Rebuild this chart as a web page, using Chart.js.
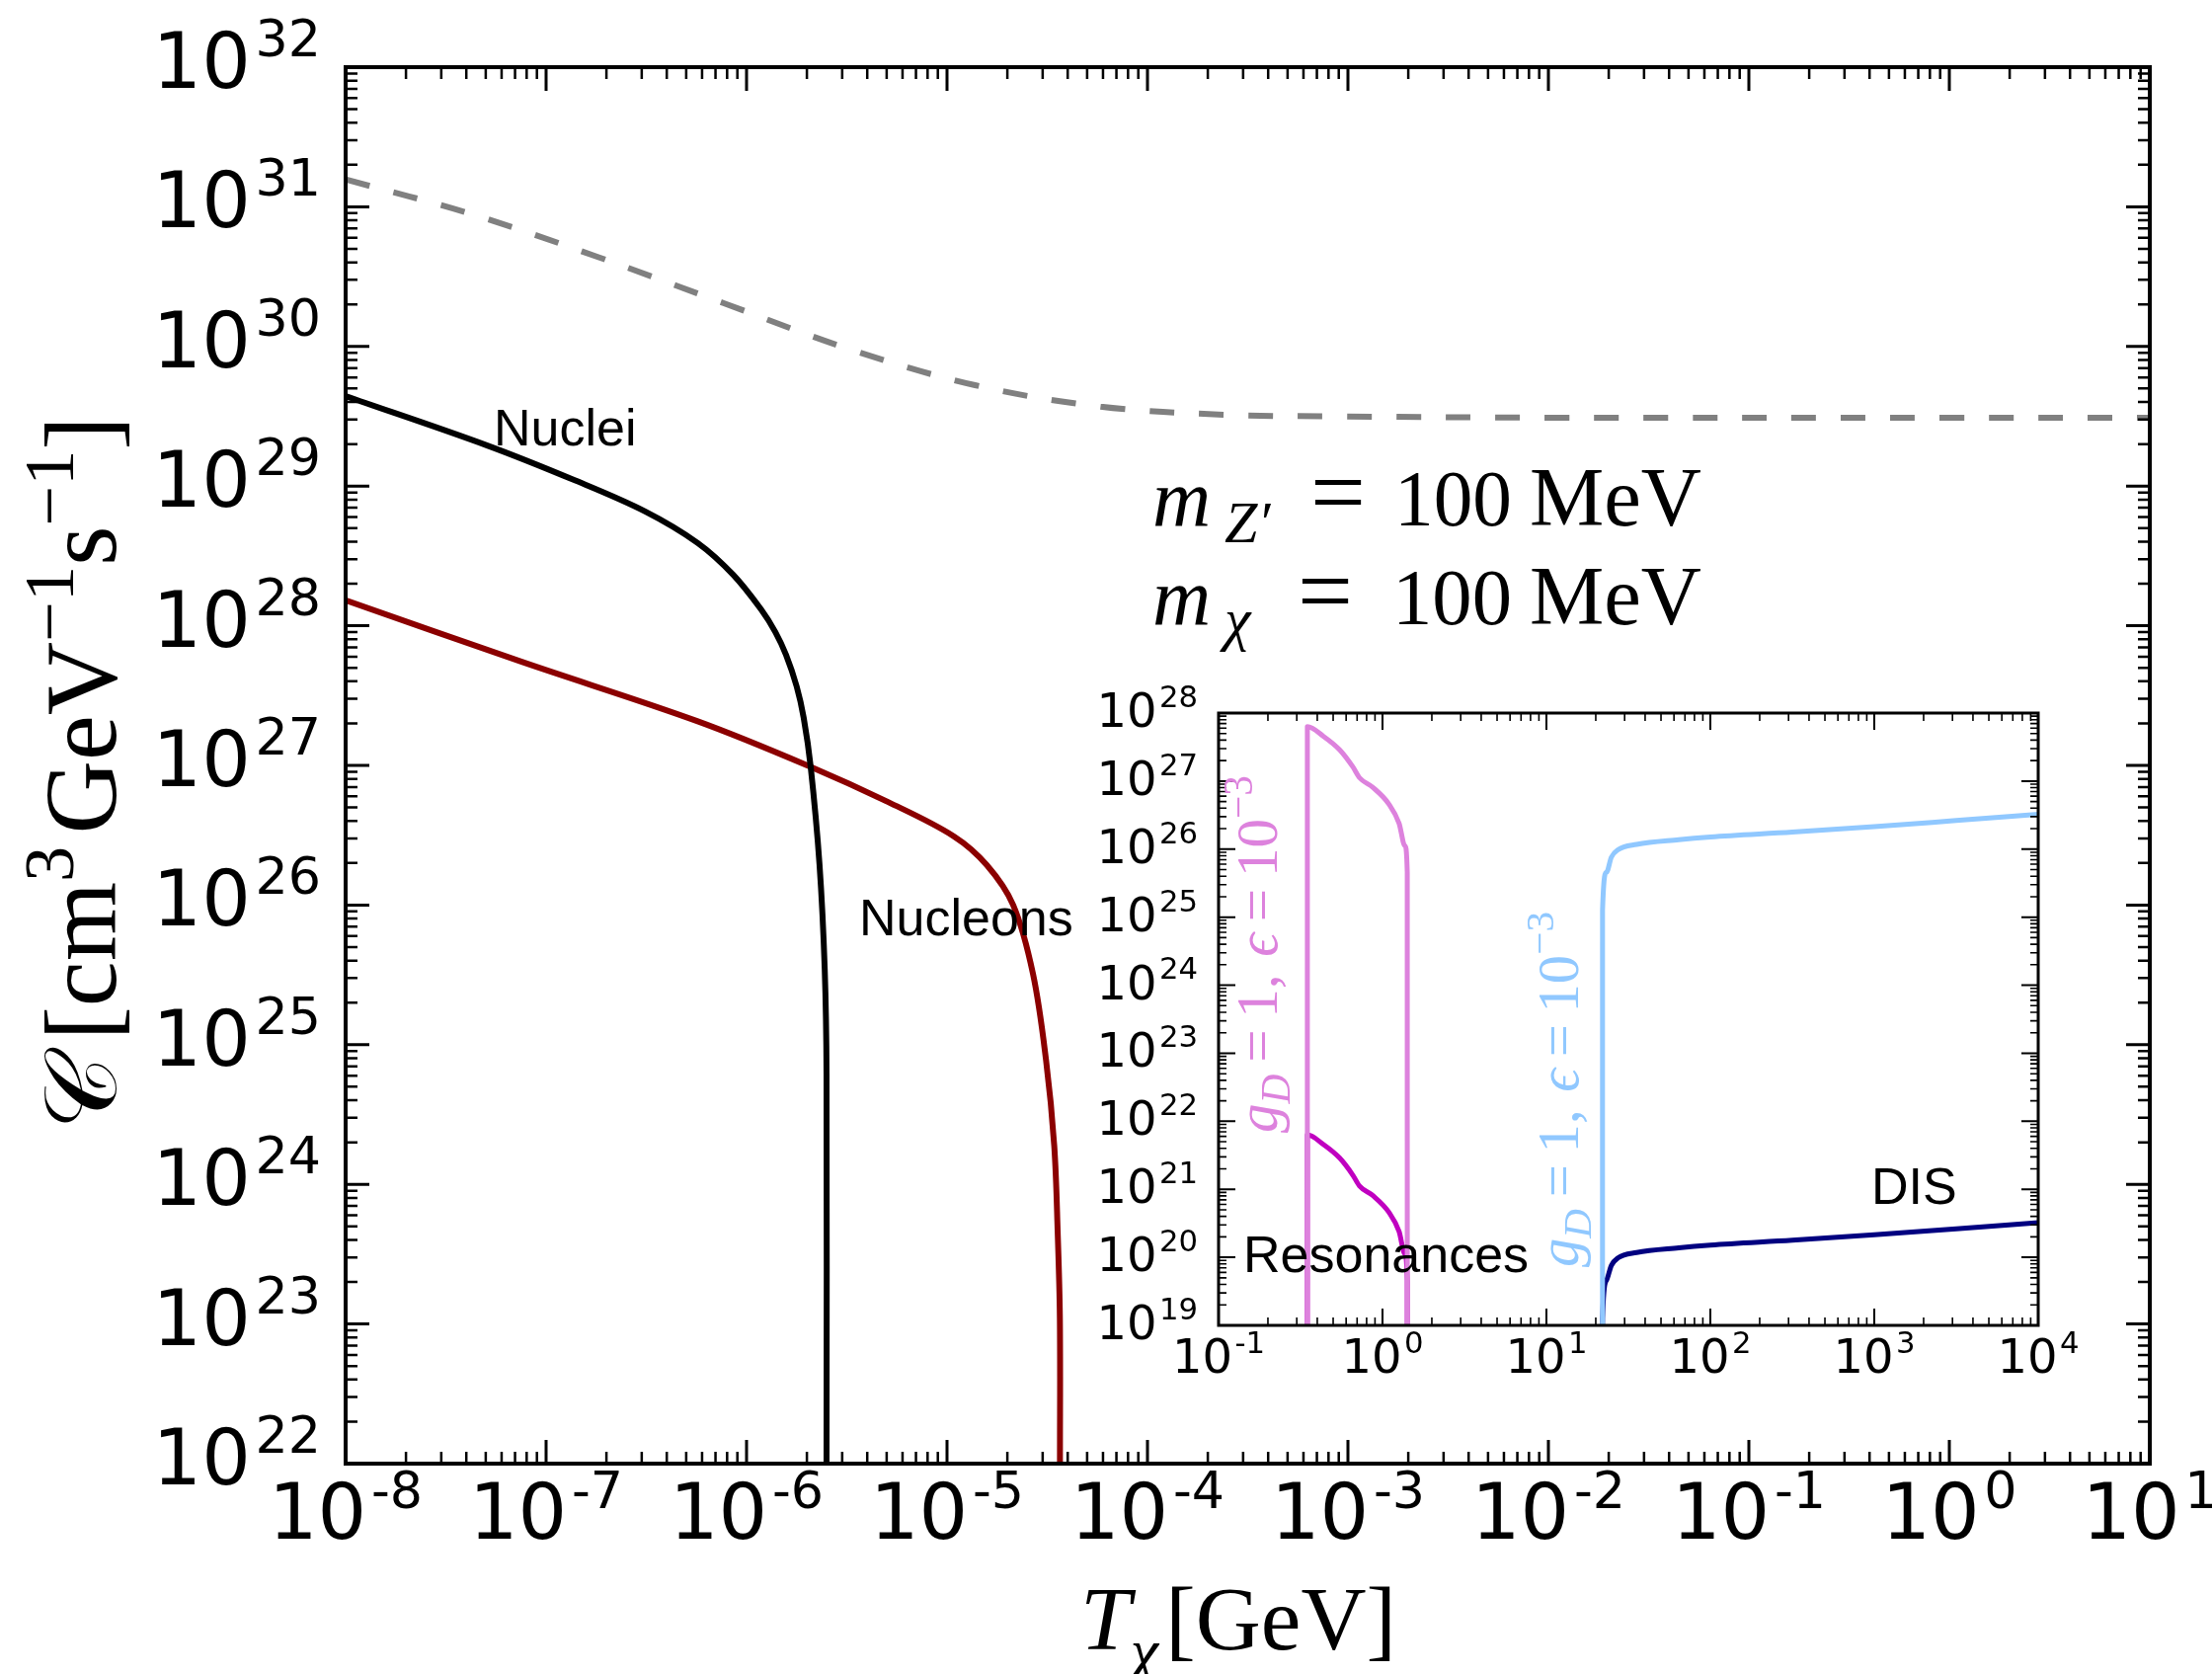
<!DOCTYPE html>
<html><head><meta charset="utf-8">
<script src="https://cdn.jsdelivr.net/npm/chart.js@4.4.1/dist/chart.umd.min.js"></script>
<style>
html,body{margin:0;padding:0;background:#fff;}
#wrap{position:relative;width:2240px;height:1695px;overflow:hidden;background:#fff;}
canvas{position:absolute;left:0;top:0;}
</style></head><body>
<div id="wrap"><canvas id="main" width="2240" height="1695"></canvas><canvas id="inset" width="2240" height="1695"></canvas></div>
<script>
// ---------------- DATA ----------------
// Main panel: T_chi [GeV] and C [cm^3 GeV^-1 s^-1]
const fluxT   = [1e-8, 4.25e-8, 1.80e-7, 7.64e-7, 3.24e-6, 1.38e-5, 5.83e-5, 2.48e-4, 8.34e-4, 1e-2, 1, 10];
const fluxC   = [1.57e31, 8.87e30, 4.39e30, 2.05e30, 9.59e29, 5.28e29, 3.71e29, 3.24e29, 3.16e29, 3.09e29, 3.09e29, 3.09e29];
const nucleiT = [1e-8, 5.05e-8, 1.39e-7, 3.12e-7, 5.71e-7, 8.57e-7, 1.186e-6, 1.393e-6, 1.574e-6, 1.778e-6, 1.928e-6, 2.089e-6, 2.312e-6, 2.455e-6, 2.506e-6, 2.506e-6];
const nucleiC = [4.41e29, 1.96e29, 1.10e29, 6.58e28, 3.91e28, 2.32e28, 1.30e28, 9.0e27, 6.18e27, 3.68e27, 2.19e27, 9.77e26, 1.95e26, 3.45e25, 6.12e24, 1e22];
const nucleonsT = [1e-8, 7.57e-8, 5.71e-7, 2.089e-6, 5.09e-6, 1.084e-5, 1.581e-5, 2.138e-5, 2.685e-5, 3.119e-5, 3.428e-5, 3.565e-5, 3.656e-5, 3.660e-5];
const nucleonsC = [1.52e28, 5.51e27, 2.07e27, 9.77e26, 5.46e26, 3.10e26, 1.93e26, 1.00e26, 3.21e25, 7.76e24, 1.88e24, 4.56e23, 1.10e23, 1e22];
// Inset: resonances and DIS
const resT     = [0.348, 0.3481, 0.4355, 0.548, 0.659, 0.724, 0.871, 1.096, 1.262, 1.371, 1.416, 1.4161];
const resHighC = [1e19, 6.31e27, 4.57e27, 2.88e27, 1.62e27, 1.12e27, 8.13e26, 4.57e26, 2.40e26, 1.12e26, 4.57e25, 1e19];
const resLowC  = [1e19, 6.31e21, 4.57e21, 2.88e21, 1.62e21, 1.12e21, 8.13e20, 4.57e20, 2.40e20, 1.12e20, 4.57e19, 1e19];
const disT     = [21.98, 21.99, 23.23, 24.89, 27.29, 35.48, 64.12, 100, 316.2, 1000, 3162, 10000];
const disHighC = [1e19, 1.26e25, 4.57e25, 7.59e25, 9.77e25, 1.175e26, 1.38e26, 1.51e26, 1.78e26, 2.14e26, 2.63e26, 3.24e26];
const disLowC  = [1e19, 1.26e19, 4.57e19, 7.59e19, 9.77e19, 1.175e20, 1.38e20, 1.51e20, 1.78e20, 2.14e20, 2.63e20, 3.24e20];
// Tick labels (exponents of 10)
const mainXExps  = ['-8','-7','-6','-5','-4','-3','-2','-1','0','1'];
const mainYExps  = ['22','23','24','25','26','27','28','29','30','31','32'];
const insetXExps = ['-1','0','1','2','3','4'];
const insetYExps = ['19','20','21','22','23','24','25','26','27','28'];
// -----------------------------------------------------------------

const zip = (xs, ys) => xs.map((x, i) => ({x: x, y: ys[i]}));
const F_SANS  = '"DejaVu Sans", sans-serif';
const F_TXT   = '"Liberation Sans", Arial, sans-serif';
const F_SERIF = '"Liberation Serif", "DejaVu Serif", serif';

function fontOf(r, size){ return (r.i ? 'italic ' : '') + ((r.s || 1) * size) + 'px ' + (r.f || F_SERIF); }
function runsWidth(ctx, runs, size){
  let w = 0;
  for (const r of runs){ ctx.font = fontOf(r, size); w += ctx.measureText(r.t).width + (r.gap || 0) * size; }
  return w;
}
function drawRuns(ctx, runs, x, y, size, opt){
  opt = opt || {};
  if (opt.fit) size = size * opt.fit / runsWidth(ctx, runs, size);
  const total = runsWidth(ctx, runs, size);
  ctx.save(); ctx.translate(x, y); if (opt.rot) ctx.rotate(opt.rot);
  let cx = opt.align === 'center' ? -total / 2 : opt.align === 'right' ? -total : 0;
  ctx.fillStyle = opt.color || '#000'; ctx.textBaseline = 'alphabetic'; ctx.textAlign = 'left';
  for (const r of runs){
    ctx.font = fontOf(r, size);
    ctx.fillText(r.t, cx, (r.dy || 0) * size);
    cx += ctx.measureText(r.t).width + (r.gap || 0) * size;
  }
  ctx.restore();
}
function drawLogTicks(ctx, chart, o){
  const a = chart.chartArea, xs = chart.scales.x, ys = chart.scales.y;
  ctx.save(); ctx.strokeStyle = '#000';
  const eachVal = (sc, fn) => {
    const lo = Math.floor(Math.log10(sc.min)), hi = Math.ceil(Math.log10(sc.max));
    for (let e = lo; e <= hi; e++) for (let m = 1; m <= 9; m++){
      const v = m * Math.pow(10, e);
      if (v < sc.min * 0.999999 || v > sc.max * 1.000001) continue;
      fn(sc.getPixelForValue(v), m === 1);
    }
  };
  eachVal(xs, (p, major) => {
    const L = major ? o.major : o.minor; ctx.lineWidth = major ? o.wMajor : o.wMinor;
    ctx.beginPath(); ctx.moveTo(p, a.bottom); ctx.lineTo(p, a.bottom - L);
    ctx.moveTo(p, a.top); ctx.lineTo(p, a.top + L); ctx.stroke();
  });
  eachVal(ys, (p, major) => {
    const L = major ? o.major : o.minor; ctx.lineWidth = major ? o.wMajor : o.wMinor;
    ctx.beginPath(); ctx.moveTo(a.left, p); ctx.lineTo(a.left + L, p);
    ctx.moveTo(a.right, p); ctx.lineTo(a.right - L, p); ctx.stroke();
  });
  ctx.lineWidth = o.frame; ctx.strokeRect(a.left, a.top, a.right - a.left, a.bottom - a.top);
  ctx.restore();
}

const lineDs = (label, xs, ys, color, width, dash, mono) => ({
  label: label, data: zip(xs, ys), borderColor: color, backgroundColor: color,
  borderWidth: width, borderDash: dash || [], pointRadius: 0, fill: false,
  cubicInterpolationMode: mono ? 'monotone' : 'default', tension: mono ? 0 : 0.35,
  borderJoinStyle: 'round'
});

const mainPlugin = {
  id: 'mainDecor',
  beforeDraw(chart){ const c = chart.ctx; c.save(); c.fillStyle = '#fff'; c.fillRect(0, 0, chart.width, chart.height); c.restore(); },
  afterDraw(chart){
    const ctx = chart.ctx, xs = chart.scales.x, ys = chart.scales.y, a = chart.chartArea;
    drawLogTicks(ctx, chart, {major: 24, minor: 12, wMajor: 3, wMinor: 2.5, frame: 4});
    const base = 78;
    mainXExps.forEach(e => {
      const p = xs.getPixelForValue(Math.pow(10, Number(e)));
      drawRuns(ctx, [{t:'10', f:F_SANS, gap:0.06}, {t:e, f:F_SANS, s:0.67, dy:-0.40}], p, a.bottom + 76, base, {align:'center'});
    });
    mainYExps.forEach(e => {
      const p = ys.getPixelForValue(Math.pow(10, Number(e)));
      drawRuns(ctx, [{t:'10', f:F_SANS, gap:0.06}, {t:e, f:F_SANS, s:0.67, dy:-0.41}], a.left - 25, p + 21, base, {align:'right'});
    });
    // axis titles
    drawRuns(ctx, [{t:'T', i:true}, {t:'χ', i:true, s:0.7, dy:0.25, gap:0.08}, {t:'[GeV]'}], 1094, 1670, 90, {fit: 320});
    drawRuns(ctx, [{t:'𝒞', f:'"DejaVu Serif", "DejaVu Sans", "Noto Sans", serif', gap:0.15}, {t:'[cm'}, {t:'3', s:0.7, dy:-0.42, gap:0.12},
                   {t:'GeV'}, {t:'−1', s:0.7, dy:-0.42}, {t:'s'}, {t:'−1', s:0.7, dy:-0.42}, {t:']'}],
             117, 1144, 85, {rot: -Math.PI / 2, fit: 723});
    // curve labels
    ctx.save(); ctx.fillStyle = '#000'; ctx.font = '52px ' + F_TXT; ctx.textBaseline = 'alphabetic';
    ctx.fillText('Nuclei', 500, 451);
    ctx.fillText('Nucleons', 870, 947);
    ctx.restore();
    // parameter annotation
    const S = 82;
    drawRuns(ctx, [{t:'m', i:true}], 1167, 532, S);
    drawRuns(ctx, [{t:'Z′', i:true}], 1240, 549, 60);
    drawRuns(ctx, [{t:'='}], 1327, 532, S, {fit: 56});
    drawRuns(ctx, [{t:'100'}], 1412, 532, S, {fit: 119});
    drawRuns(ctx, [{t:'MeV'}], 1549, 532, S, {fit: 174});
    drawRuns(ctx, [{t:'m', i:true}], 1167, 632, S);
    drawRuns(ctx, [{t:'χ', i:true}], 1240, 647, 60);
    drawRuns(ctx, [{t:'='}], 1314, 632, S, {fit: 56});
    drawRuns(ctx, [{t:'100'}], 1410, 632, S, {fit: 121});
    drawRuns(ctx, [{t:'MeV'}], 1549, 632, S, {fit: 174});
  }
};

const insetPlugin = {
  id: 'insetDecor',
  afterDraw(chart){
    const ctx = chart.ctx, xs = chart.scales.x, ys = chart.scales.y, a = chart.chartArea;
    drawLogTicks(ctx, chart, {major: 17, minor: 8, wMajor: 2, wMinor: 1.6, frame: 3});
    const base = 48;
    insetXExps.forEach(e => {
      const p = xs.getPixelForValue(Math.pow(10, Number(e)));
      drawRuns(ctx, [{t:'10', f:F_SANS, gap:0.05}, {t:e, f:F_SANS, s:0.64, dy:-0.42}], p, a.bottom + 48, base, {align:'center'});
    });
    insetYExps.forEach(e => {
      const p = ys.getPixelForValue(Math.pow(10, Number(e)));
      drawRuns(ctx, [{t:'10', f:F_SANS, gap:0.05}, {t:e, f:F_SANS, s:0.64, dy:-0.42}], a.left - 21, p + 14, base, {align:'right'});
    });
    ctx.save(); ctx.fillStyle = '#000'; ctx.font = '52px ' + F_TXT; ctx.textBaseline = 'alphabetic';
    ctx.fillText('Resonances', 1259, 1288);
    ctx.fillText('DIS', 1895, 1219);
    ctx.restore();
    const lab = [{t:'g', i:true}, {t:'D', i:true, s:0.7, dy:0.22, gap:0.2}, {t:'=', gap:0.2}, {t:'1,', gap:0.3}, {t:'ϵ', i:true, gap:0.2}, {t:'=', gap:0.2}, {t:'10'}, {t:'−3', s:0.7, dy:-0.42}];
    drawRuns(ctx, lab, 1293, 1147, 50, {rot: -Math.PI / 2, fit: 362, color: '#DD82DD'});
    drawRuns(ctx, lab, 1598, 1283, 50, {rot: -Math.PI / 2, fit: 360, color: '#90C8FF'});
  }
};

Chart.defaults.font.family = F_SANS;

new Chart(document.getElementById('main'), {
  type: 'line',
  data: { datasets: [
    lineDs('flux', fluxT, fluxC, '#808080', 6, [25, 25], false),
    lineDs('Nuclei', nucleiT, nucleiC, '#000000', 6, null, false),
    lineDs('Nucleons', nucleonsT, nucleonsC, '#8B0000', 6, null, false)
  ]},
  options: {
    responsive: false, animation: false, devicePixelRatio: 1,
    layout: { padding: { left: 350, right: 2240 - 2177, top: 68, bottom: 1695 - 1482 } },
    scales: {
      x: { type: 'logarithmic', min: 1e-8, max: 10, display: false },
      y: { type: 'logarithmic', min: 1e22, max: 1e32, display: false }
    },
    plugins: { legend: { display: false }, tooltip: { enabled: false } },
    events: []
  },
  plugins: [mainPlugin]
});

new Chart(document.getElementById('inset'), {
  type: 'line',
  data: { datasets: [
    lineDs('res high', resT, resHighC, '#DD82DD', 5, null, true),
    lineDs('dis high', disT, disHighC, '#90C8FF', 5, null, true),
    lineDs('res low', resT, resLowC, '#C000C0', 5, null, true),
    lineDs('dis low', disT, disLowC, '#000080', 5, null, true)
  ]},
  options: {
    responsive: false, animation: false, devicePixelRatio: 1,
    layout: { padding: { left: 1234, right: 2240 - 2064, top: 722, bottom: 1695 - 1342 } },
    scales: {
      x: { type: 'logarithmic', min: 0.1, max: 1e4, display: false },
      y: { type: 'logarithmic', min: 1e19, max: 1e28, display: false }
    },
    plugins: { legend: { display: false }, tooltip: { enabled: false } },
    events: []
  },
  plugins: [insetPlugin]
});
</script>
</body></html>
